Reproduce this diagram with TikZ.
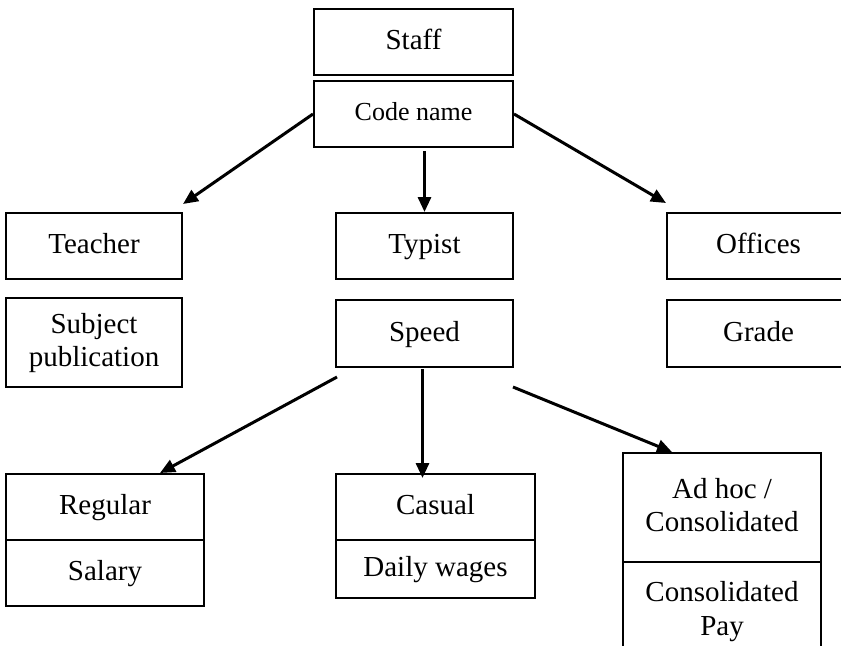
\documentclass[tikz,border=0pt]{standalone}
\usepackage{fontspec}
\setmainfont{Liberation Serif}
\usetikzlibrary{arrows.meta,calc}
\tikzset{
  box/.style={draw, line width=1pt, align=center, inner sep=2pt, text depth=0.25em,
              font=\fontsize{14.5}{16.7}\selectfont},
  arrow/.style={-{Triangle[length=7.5pt,width=6.5pt]}, line width=1.5pt}
}

\begin{document}
\begin{tikzpicture}[x=0.5pt,y=-0.5pt]
\useasboundingbox (0,0) rectangle (841,645);
\clip (0,0) rectangle (841,645);
% top
\node[box, minimum width=99.5pt, minimum height=33pt] (staff) at (413.5,42) {Staff};
\node[box, minimum width=99.5pt, minimum height=33pt, font=\fontsize{13}{15}\selectfont] (code) at (413.5,114) {Code name};
% middle row
\node[box, minimum width=88pt, minimum height=33pt] (teacher) at (94,246) {Teacher};
\node[box, minimum width=88.5pt, minimum height=33pt] (typist) at (424.5,246) {Typist};
\node[box, minimum width=91.5pt, minimum height=33pt] (offices) at (758.5,246) {Offices};
\node[box, minimum width=88pt, minimum height=44.5pt] (subject) at (94,342.5) {Subject\\publication};
\node[box, minimum width=88.5pt, minimum height=33.5pt] (speed) at (424.5,333.5) {Speed};
\node[box, minimum width=91.5pt, minimum height=33.5pt] (grade) at (758.5,333.5) {Grade};
% bottom row
\node[box, minimum width=99pt, minimum height=33pt] (regular) at (105,507) {Regular};
\node[box, minimum width=99pt, minimum height=33pt] (salary) at (105,573) {Salary};
\node[box, minimum width=99.5pt, minimum height=33pt] (casual) at (435.5,507) {Casual};
\node[box, minimum width=99.5pt, minimum height=29pt] (wages) at (435.5,569) {Daily wages};
\node[box, minimum width=99pt, minimum height=54.5pt] (adhoc) at (722,507.5) {Ad hoc /\\Consolidated};
\node[box, minimum width=99pt, minimum height=49pt] (pay) at (722,611) {Consolidated\\Pay};
% arrows
\draw[arrow] (code.west) -- ($(teacher.north east)+(0,-8)$);
\draw[arrow] ($(code.south -| typist.north)+(0,3)$) -- (typist.north);
\draw[arrow] (code.east) -- ($(offices.north west)+(0,-9)$);
\draw[arrow] ($(speed.south west)+(2,9)$) -- ($(regular.north)+(55,0)$);
\draw[arrow] ($(speed.south)+(-2,1)$) -- ($(speed.south |- casual.north)+(-2,5)$);
\draw[arrow] ($(speed.south east)+(-1,19)$) -- ($(adhoc.north west)+(50,0)$);
\end{tikzpicture}
\end{document}
